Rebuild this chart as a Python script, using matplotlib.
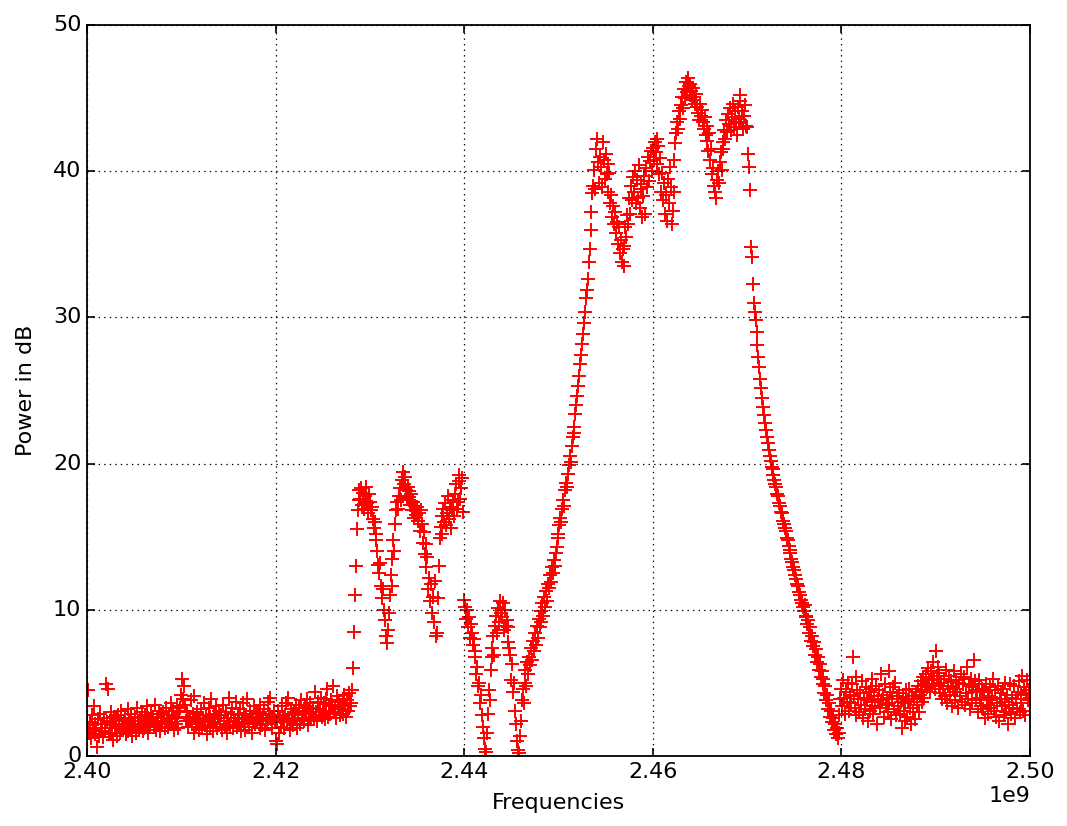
"""Spectrum sweep 2.40-2.50 GHz: power per frequency bin, drawn as red '+' markers."""
import numpy as np
import matplotlib; matplotlib.use("Agg")
import matplotlib.pyplot as plt

f_start, f_stop = 2.40e9, 2.50e9

# power in dB, one row per MHz (10 bins each)
power_db = [
    2.1, 4.5, 1.6, 2.3, 1.2, 2.8, 1.9, 3.4, 1.5, 2.2,
    1.8, 0.6, 2.5, 1.4, 2.9, 1.7, 2.2, 1.3, 2.6, 1.9,
    4.9, 2.3, 4.6, 1.5, 2.4, 3.0, 1.6, 2.1, 1.1, 2.7,
    1.9, 2.5, 1.4, 2.8, 2.0, 1.6, 3.1, 2.2, 1.8, 2.4,
    2.6, 1.5, 2.1, 3.2, 1.7, 2.3, 1.9, 2.9, 1.4, 2.2,
    2.0, 2.7, 1.6, 3.3, 2.4, 1.8, 2.6, 2.1, 3.0, 1.7,
    2.3, 1.9, 2.8, 2.2, 3.4, 1.6, 2.5, 2.0, 2.9, 2.4,
    2.7, 2.1, 3.5, 1.8, 2.6, 2.3, 3.1, 1.7, 2.4, 2.9,
    2.2, 3.0, 2.6, 1.9, 3.3, 2.5, 2.0, 2.8, 2.3, 3.6,
    2.5, 3.1, 1.8, 2.7, 2.2, 3.4, 2.6, 1.9, 3.0, 3.3,
    4.2, 5.3, 3.9, 4.8, 3.5, 2.4, 3.1, 2.0, 2.7, 2.5,   # 2.410
    3.8, 2.2, 2.9, 1.6, 4.1, 2.6, 2.0, 3.0, 2.3, 1.8,
    2.6, 3.2, 1.9, 2.5, 3.6, 2.1, 2.8, 1.5, 2.4, 3.3,
    2.0, 2.7, 3.9, 2.3, 1.7, 2.9, 2.5, 3.4, 1.9, 2.6,
    3.1, 2.2, 2.8, 1.8, 3.5, 2.4, 2.0, 3.0, 2.6, 1.6,
    2.4, 4.0, 2.1, 2.9, 3.3, 1.9, 2.6, 2.3, 3.7, 2.0,
    2.8, 2.3, 3.2, 1.7, 2.5, 3.6, 2.2, 2.9, 1.8, 2.6,
    3.9, 2.4, 2.0, 3.1, 2.7, 1.6, 2.5, 3.4, 2.2, 2.9,
    2.3, 3.0, 2.6, 1.9, 3.5, 2.4, 2.1, 2.8, 3.2, 1.8,
    2.6, 2.2, 3.7, 2.9, 4.0, 2.5, 1.9, 2.7, 3.1, 2.3,
    1.0, 2.4, 0.8, 3.1, 1.6, 2.7, 2.0, 3.4, 2.5, 1.9,   # 2.420
    2.8, 3.6, 2.3, 4.0, 2.6, 1.8, 3.2, 2.4, 2.9, 2.1,
    3.0, 2.5, 3.5, 1.9, 2.8, 3.3, 2.2, 3.8, 2.6, 3.1,
    2.4, 3.4, 2.9, 3.9, 2.1, 3.2, 2.7, 3.6, 2.5, 3.0,
    3.3, 2.6, 4.4, 3.0, 2.4, 3.7, 2.8, 3.2, 4.0, 2.7,
    3.1, 3.6, 2.5, 3.9, 3.0, 4.6, 2.7, 3.4, 2.9, 3.8,
    3.5, 4.8, 3.0, 3.3, 2.6, 4.1, 3.2, 3.7, 2.8, 3.4,
    3.2, 3.9, 2.9, 4.2, 3.5, 2.7, 3.8, 3.1, 4.3, 3.4,
    3.6, 4.5, 6.0, 8.5, 11.0, 13.0, 15.5, 16.8, 17.5, 18.2,
    17.6, 18.3, 17.2, 18.0, 16.9, 17.8, 18.4, 17.3, 16.6, 17.9,
    17.4, 16.8, 17.0, 16.2, 15.6, 16.0, 14.8, 15.2, 14.0, 13.1,   # 2.430
    12.5, 13.2, 11.6, 10.8, 11.4, 10.0, 9.3, 8.2, 7.7, 8.6,
    9.8, 11.0, 12.4, 11.6, 13.5, 14.8, 14.0, 15.9, 16.8, 17.4,
    16.9, 17.8, 18.3, 17.5, 18.9, 19.4, 18.6, 19.1, 18.2, 17.6,
    18.4, 17.7, 18.1, 17.2, 17.9, 16.8, 17.4, 16.3, 17.1, 16.5,
    17.0, 16.1, 16.6, 15.4, 16.8, 15.9, 14.6, 15.3, 13.8, 14.5,
    12.9, 13.6, 11.4, 12.2, 10.6, 11.8, 9.8, 10.9, 9.2, 12.0,
    8.2, 8.4, 10.8, 13.0, 14.9, 15.7, 16.4, 15.2, 16.9, 16.0,
    17.3, 15.8, 16.6, 17.8, 16.2, 17.0, 15.6, 16.8, 17.5, 16.4,
    17.9, 18.6, 16.9, 17.4, 18.8, 19.2, 17.6, 18.3, 19.0, 16.7,
    10.7, 10.2, 9.4, 10.0, 8.8, 9.5, 8.1, 9.0, 8.4, 7.6,   # 2.440
    8.0, 6.8, 7.2, 5.6, 6.1, 4.8, 5.0, 3.6, 4.2, 2.8,
    2.0, 1.2, 0.5, 0.3, 1.6, 2.9, 4.5, 3.8, 5.9, 6.8,
    7.4, 8.2, 6.9, 8.9, 9.6, 8.4, 10.1, 9.2, 10.6, 9.8,
    9.5, 10.5, 8.6, 10.0, 8.9, 9.3, 7.8, 8.8, 7.4, 6.9,
    5.2, 6.3, 4.4, 5.0, 3.1, 2.2, 1.0, 0.4, 0.2, 1.4,
    2.4, 3.8, 4.6, 3.6, 5.0, 5.9, 4.8, 6.4, 5.6, 6.8,
    6.2, 7.4, 6.6, 7.9, 7.2, 8.4, 7.6, 8.9, 8.1, 9.4,
    8.8, 9.9, 9.2, 10.5, 9.6, 10.9, 10.2, 11.3, 10.6, 11.8,
    11.5, 12.4, 11.9, 12.9, 12.5, 13.4, 13.0, 13.9, 14.3, 14.9,
    15.2, 15.8, 16.3, 16.0, 16.9, 17.5, 17.1, 18.2, 18.7, 18.4,   # 2.450
    19.3, 19.9, 20.5, 20.1, 21.2, 21.8, 22.5, 22.1, 23.4, 24.0,
    24.6, 25.3, 26.0, 26.8, 27.4, 28.2, 28.9, 29.6, 30.4, 31.3,
    31.9, 32.6, 33.8, 34.7, 36.0, 37.2, 38.5, 39.0, 40.1, 38.8,
    41.5, 42.2, 40.6, 39.2, 41.0, 40.3, 38.9, 42.0, 40.8, 39.5,
    41.2, 39.8, 40.5, 38.6, 39.9, 37.8, 38.4, 36.9, 37.6, 36.4,
    37.2, 35.8, 36.5, 35.0, 36.2, 34.4, 35.3, 33.8, 34.7, 33.5,
    34.9, 36.2, 35.5, 37.0, 36.4, 38.2, 37.1, 39.0, 38.0, 39.6,
    38.6, 40.0, 37.8, 39.4, 38.2, 40.4, 37.5, 39.1, 38.8, 36.9,
    38.3, 39.7, 37.1, 40.2, 38.9, 41.0, 39.3, 40.7, 41.4, 40.0,
    41.6, 40.8, 42.0, 41.3, 42.2, 40.5, 41.7, 39.8, 40.9, 38.6,   # 2.460
    39.9, 38.0, 39.2, 37.1, 38.4, 36.6, 39.5, 37.8, 40.3, 38.9,
    36.4, 37.3, 38.6, 40.8, 41.9, 42.6, 43.4, 42.9, 44.1, 43.6,
    44.5, 45.1, 44.3, 45.6, 45.0, 46.1, 45.4, 46.4, 45.8, 45.2,
    46.0, 45.5, 44.9, 45.7, 45.1, 44.6, 45.3, 44.4, 44.0, 43.5,
    44.6, 43.8, 44.2, 43.4, 42.9, 43.7, 42.5, 43.1, 42.1, 41.4,
    42.6, 40.8, 41.5, 39.8, 40.2, 39.0, 38.6, 38.2, 39.4, 40.0,
    39.2, 40.6, 41.3, 40.1, 42.0, 41.5, 42.8, 42.2, 43.5, 42.7,
    43.9, 43.2, 44.3, 42.8, 43.7, 44.6, 43.0, 44.1, 43.4, 42.5,
    44.4, 43.6, 45.2, 44.8, 43.3, 44.1, 42.9, 43.8, 44.5, 43.1,
    43.0, 41.2, 40.3, 38.7, 34.8, 34.1, 32.3, 31.0, 30.4, 29.8,   # 2.470
    29.0, 28.1, 27.3, 26.6, 25.8, 25.2, 24.5, 23.9, 23.3, 22.8,
    22.3, 21.8, 21.4, 20.9, 20.5, 20.2, 19.8, 19.6, 19.2, 18.9,
    18.6, 18.4, 17.9, 17.8, 17.3, 17.1, 16.7, 16.6, 16.1, 15.9,
    15.6, 15.4, 14.9, 14.8, 14.4, 14.1, 13.9, 13.5, 13.3, 12.9,
    12.7, 12.4, 12.1, 11.8, 11.6, 11.2, 11.0, 10.7, 10.5, 10.2,
    9.9, 10.3, 9.5, 9.6, 9.0, 9.3, 8.4, 8.8, 7.9, 8.2,
    7.5, 7.8, 6.9, 7.3, 6.4, 6.8, 5.9, 6.3, 5.4, 5.8,
    4.9, 5.3, 4.3, 4.8, 3.8, 4.2, 3.2, 3.6, 2.7, 3.1,
    2.3, 2.6, 1.8, 2.2, 1.5, 1.9, 1.2, 1.6, 2.8, 3.9,
    4.6, 3.4, 5.2, 4.0, 2.9, 4.4, 3.7, 5.0, 3.1, 4.2,   # 2.480
    3.6, 4.9, 6.8, 4.1, 3.3, 5.4, 2.8, 4.5, 3.9, 3.0,
    4.3, 3.5, 5.1, 2.6, 4.0, 3.2, 4.7, 3.8, 2.4, 4.4,
    3.1, 4.6, 3.7, 5.3, 2.9, 4.1, 3.4, 4.8, 2.2, 3.9,
    4.5, 3.3, 5.6, 3.8, 4.2, 2.7, 4.9, 3.5, 4.0, 3.0,
    5.8, 3.6, 4.4, 2.5, 3.9, 4.7, 3.2, 5.0, 2.8, 4.1,
    3.4, 4.3, 2.9, 3.7, 1.9, 4.0, 3.1, 2.4, 3.6, 4.5,
    2.7, 3.8, 4.6, 3.3, 2.2, 4.1, 3.0, 3.9, 2.5, 4.4,
    3.5, 4.8, 3.0, 4.2, 5.1, 3.7, 4.5, 5.4, 4.0, 4.9,
    5.6, 4.7, 6.0, 5.2, 4.4, 5.8, 4.9, 6.4, 5.3, 4.6,
    7.2, 5.5, 6.1, 4.8, 5.7, 4.3, 5.0, 3.9, 4.6, 5.3,   # 2.490
    4.1, 5.9, 3.6, 4.8, 5.5, 4.2, 5.1, 3.4, 4.7, 5.8,
    4.4, 3.8, 5.2, 4.6, 3.3, 5.0, 4.1, 5.6, 3.7, 4.9,
    5.4, 3.5, 4.3, 6.1, 3.9, 4.8, 3.2, 5.3, 4.4, 3.6,
    4.7, 6.6, 5.1, 3.8, 4.5, 3.0, 5.2, 4.0, 3.4, 4.6,
    3.2, 4.4, 2.6, 4.9, 3.5, 4.1, 2.9, 3.8, 4.7, 3.3,
    4.0, 5.3, 3.1, 4.5, 2.7, 3.6, 4.8, 2.4, 3.9, 4.3,
    3.4, 4.6, 2.8, 3.7, 5.0, 3.0, 4.2, 2.2, 3.5, 4.9,
    2.9, 4.0, 3.3, 4.8, 2.6, 3.9, 3.2, 4.4, 5.1, 3.0,
    4.2, 3.6, 5.5, 3.1, 4.7, 2.8, 4.3, 5.2, 3.8, 4.5,
    4.0,
]

# sweep grid: evenly spaced bins across the span
freqs = np.linspace(f_start, f_stop, len(power_db))

plt.style.use("classic")
plt.rcParams["font.size"] = 16
plt.rcParams["figure.facecolor"] = "white"
plt.rcParams["savefig.facecolor"] = "white"

fig = plt.figure(figsize=(10.67, 8.26), dpi=100)
ax = fig.add_axes([0.0815, 0.0847, 0.8838, 0.885])
ax.plot(freqs, power_db, "r+", ms=10, mew=1.4)
ax.set_xlim(f_start, f_stop); ax.set_ylim(0, 50)
ax.set_xlabel("Frequencies", labelpad=8); ax.set_ylabel("Power in dB", labelpad=12)
ax.grid(True, color="black", ls=":", lw=0.9)
ax.tick_params(direction="in", length=6, width=1.2)
for s in ax.spines.values():
    s.set_linewidth(1.3)

fig.savefig("out.png", dpi=100)
